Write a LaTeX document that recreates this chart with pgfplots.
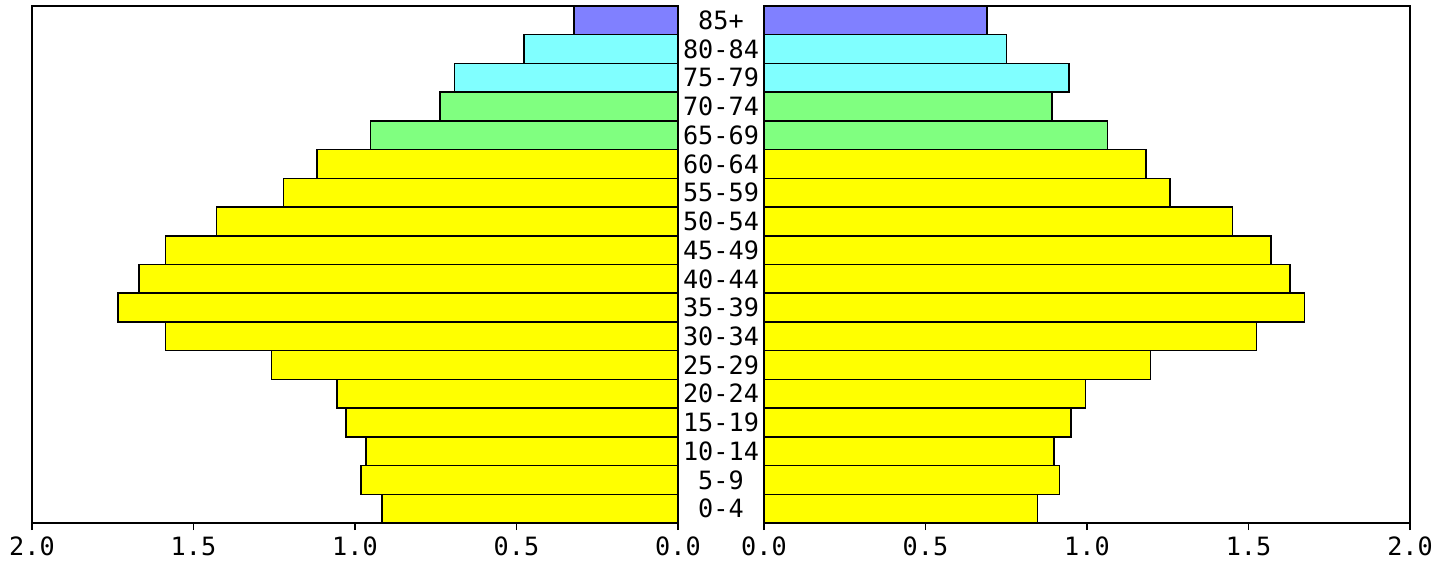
\documentclass[border=0pt]{standalone}
\usepackage{pgfplots}
\pgfplotsset{compat=1.18}
\usepackage{fontspec}
\setmainfont{DejaVu Sans Mono}
\definecolor{cyel}{HTML}{FFFF00}
\definecolor{cgrn}{HTML}{80FF80}
\definecolor{ccyn}{HTML}{80FFFF}
\definecolor{cblu}{HTML}{8080FF}
\pgfplotsset{
  pyr/.style={
    scale only axis, width=323pt, height=258.5pt,
    xmin=0, xmax=2, ymin=-0.5, ymax=17.5,
    xbar, bar width=1,
    xtick={0,0.5,1,1.5,2},
    xticklabel style={/pgf/number format/.cd, fixed, fixed zerofill, precision=1, assume math mode=true},
    tick align=outside, major tick length=3.5pt,
    xtick pos=bottom,
    axis line style={line width=0.7pt},
    tick style={line width=0.7pt, black},
    tick label style={font=\fontsize{12.6}{12.6}\selectfont},
    every axis plot/.append style={draw=black, line width=0.75pt, bar shift=0pt},
  }
}
\begin{document}
\begin{tikzpicture}
\path[use as bounding box] (0,0) rectangle (720.5pt,285pt);
\begin{axis}[pyr, at={(16pt,23.5pt)}, anchor=south west, x dir=reverse, ytick=\empty]
\addplot[fill=cyel, bar shift=0pt] coordinates {
(0.916,0) (0.981,1) (0.966,2) (1.028,3) (1.056,4) (1.259,5) (1.587,6) (1.734,7) (1.668,8) (1.587,9) (1.429,10) (1.221,11) (1.118,12)};
\addplot[fill=cgrn, bar shift=0pt] coordinates {(0.952,13) (0.737,14)};
\addplot[fill=ccyn, bar shift=0pt] coordinates {(0.692,15) (0.477,16)};
\addplot[fill=cblu, bar shift=0pt] coordinates {(0.322,17)};
\end{axis}
\begin{axis}[pyr, at={(382pt,23.5pt)}, anchor=south west,
  ytick={0,1,...,17},
  yticklabels={0-4,5-9,10-14,15-19,20-24,25-29,30-34,35-39,40-44,45-49,50-54,55-59,60-64,65-69,70-74,75-79,80-84,85+},
  ytick pos=left, y tick style={draw=none},
  yticklabel style={anchor=center, xshift=-18pt}]
\addplot[fill=cyel, bar shift=0pt] coordinates {
(0.846,0) (0.915,1) (0.898,2) (0.951,3) (0.995,4) (1.196,5) (1.524,6) (1.673,7) (1.629,8) (1.569,9) (1.451,10) (1.257,11) (1.183,12)};
\addplot[fill=cgrn, bar shift=0pt] coordinates {(1.064,13) (0.891,14)};
\addplot[fill=ccyn, bar shift=0pt] coordinates {(0.944,15) (0.750,16)};
\addplot[fill=cblu, bar shift=0pt] coordinates {(0.691,17)};
\end{axis}
\end{tikzpicture}
\end{document}
